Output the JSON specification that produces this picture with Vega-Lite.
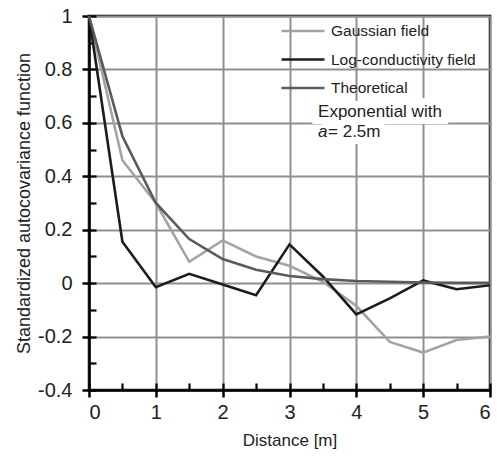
{
  "$schema": "https://vega.github.io/schema/vega-lite/v6.json",
  "width": 401,
  "height": 374,
  "autosize": {"type": "none"},
  "padding": {"left": 89, "top": 16, "right": 7, "bottom": 67},
  "background": "white",
  "config": {
    "font": "Liberation Sans",
    "view": {"stroke": "black", "strokeWidth": 2.5},
    "axis": {"labelFont": "Liberation Sans", "titleFont": "Liberation Sans", "titleFontWeight": "normal", "labelColor": "#222", "titleColor": "#222"}
  },
  "datasets": {
    "acf": [
      {"series": "Gaussian field", "d": 0, "r": 1},
      {"series": "Gaussian field", "d": 0.5, "r": 0.46},
      {"series": "Gaussian field", "d": 1, "r": 0.3},
      {"series": "Gaussian field", "d": 1.5, "r": 0.08},
      {"series": "Gaussian field", "d": 2, "r": 0.16},
      {"series": "Gaussian field", "d": 2.5, "r": 0.1},
      {"series": "Gaussian field", "d": 3, "r": 0.065},
      {"series": "Gaussian field", "d": 3.5, "r": 0.005},
      {"series": "Gaussian field", "d": 4, "r": -0.085},
      {"series": "Gaussian field", "d": 4.5, "r": -0.22},
      {"series": "Gaussian field", "d": 5, "r": -0.26},
      {"series": "Gaussian field", "d": 5.5, "r": -0.213},
      {"series": "Gaussian field", "d": 6, "r": -0.2},
      {"series": "Log-conductivity field", "d": 0, "r": 1},
      {"series": "Log-conductivity field", "d": 0.5, "r": 0.155},
      {"series": "Log-conductivity field", "d": 1, "r": -0.015},
      {"series": "Log-conductivity field", "d": 1.5, "r": 0.035},
      {"series": "Log-conductivity field", "d": 2, "r": -0.005},
      {"series": "Log-conductivity field", "d": 2.5, "r": -0.045},
      {"series": "Log-conductivity field", "d": 3, "r": 0.145},
      {"series": "Log-conductivity field", "d": 3.5, "r": 0.025},
      {"series": "Log-conductivity field", "d": 4, "r": -0.117},
      {"series": "Log-conductivity field", "d": 4.5, "r": -0.057},
      {"series": "Log-conductivity field", "d": 5, "r": 0.01},
      {"series": "Log-conductivity field", "d": 5.5, "r": -0.023},
      {"series": "Log-conductivity field", "d": 6, "r": -0.008},
      {"series": "Theoretical", "d": 0, "r": 1},
      {"series": "Theoretical", "d": 0.5, "r": 0.55},
      {"series": "Theoretical", "d": 1, "r": 0.3},
      {"series": "Theoretical", "d": 1.5, "r": 0.165},
      {"series": "Theoretical", "d": 2, "r": 0.09},
      {"series": "Theoretical", "d": 2.5, "r": 0.05},
      {"series": "Theoretical", "d": 3, "r": 0.027},
      {"series": "Theoretical", "d": 3.5, "r": 0.015},
      {"series": "Theoretical", "d": 4, "r": 0.008},
      {"series": "Theoretical", "d": 4.5, "r": 0.005},
      {"series": "Theoretical", "d": 5, "r": 0.0025},
      {"series": "Theoretical", "d": 5.5, "r": 0.001},
      {"series": "Theoretical", "d": 6, "r": 0.001}
    ],
    "note1": [{"d": 3.427, "r": 0.622, "label": "Exponential with"}],
    "note2": [{"d": 3.427, "r": 0.548, "label": "a", "rest": "= 2.5m"}]
  },
  "layer": [
    {
      "data": {"name": "acf"},
      "mark": {"type": "line", "strokeWidth": 2.6},
      "encoding": {
        "x": {
          "field": "d", "type": "quantitative",
          "scale": {"domain": [0, 6], "nice": false, "zero": false},
          "axis": {
            "title": "Distance [m]", "titleFontSize": 17, "titlePadding": 10,
            "values": [0, 1, 2, 3, 4, 5, 6],
            "labelExpr": "'' + round(datum.value)",
            "labelFontSize": 20, "labelPadding": 5,
            "tickSize": 7, "tickWidth": 2.5, "tickColor": "black",
            "domainColor": "black", "domainWidth": 2.5,
            "grid": true, "gridColor": "#8f8f8f", "gridWidth": 2
          }
        },
        "y": {
          "field": "r", "type": "quantitative",
          "scale": {"domain": [-0.4, 1], "nice": false, "zero": false},
          "axis": {
            "title": "Standardized autocovariance function", "titleFontSize": 18, "titlePadding": 4,
            "values": [-0.4, -0.2, 0, 0.2, 0.4, 0.6, 0.8, 1],
            "labelExpr": "'' + round(datum.value * 10) / 10",
            "labelFontSize": 20, "labelPadding": 10,
            "tickSize": 7, "tickWidth": 2.5, "tickColor": "black",
            "domainColor": "black", "domainWidth": 2.5,
            "grid": true, "gridColor": "#8f8f8f", "gridWidth": 2
          }
        },
        "color": {
          "field": "series", "type": "nominal",
          "scale": {
            "domain": ["Gaussian field", "Log-conductivity field", "Theoretical"],
            "range": ["#a3a3a3", "#1c1c1c", "#5a5a5a"]
          },
          "legend": {
            "orient": "none", "legendX": 191, "legendY": 7,
            "title": null, "direction": "vertical",
            "symbolType": "stroke", "symbolSize": 1849, "symbolStrokeWidth": 2.5,
            "labelFont": "Liberation Sans", "labelFontSize": 15.5, "labelColor": "#222",
            "labelOffset": 5, "clipHeight": 16, "rowPadding": 11.5, "padding": 0
          }
        }
      }
    },
    {
      "data": {"name": "acf"},
      "mark": {"type": "point", "opacity": 0},
      "encoding": {
        "x": {
          "field": "d", "type": "quantitative",
          "axis": {
            "orient": "top", "offset": -374, "title": null, "labels": false, "domain": false, "grid": false,
            "values": [0, 0.5, 1, 1.5, 2, 2.5, 3, 3.5, 4, 4.5, 5, 5.5, 6],
            "tickSize": 7, "tickWidth": 2.2, "tickColor": "black"
          }
        },
        "y": {
          "field": "r", "type": "quantitative",
          "axis": {
            "orient": "right", "offset": -401, "title": null, "labels": false, "domain": false, "grid": false,
            "values": [-0.4, -0.3, -0.2, -0.1, 0, 0.1, 0.2, 0.3, 0.4, 0.5, 0.6, 0.7, 0.8, 0.9, 1],
            "tickSize": 7, "tickWidth": 2.2, "tickColor": "black"
          }
        }
      }
    },
    {
      "data": {"name": "note1"},
      "mark": {"type": "text", "align": "left", "baseline": "alphabetic", "fontSize": 17, "color": "white", "stroke": "white", "strokeWidth": 14},
      "encoding": {
        "x": {"field": "d", "type": "quantitative", "axis": null},
        "y": {"field": "r", "type": "quantitative", "axis": null},
        "text": {"field": "label"}
      }
    },
    {
      "data": {"name": "note2"},
      "mark": {"type": "text", "align": "left", "baseline": "alphabetic", "fontSize": 17, "color": "white", "stroke": "white", "strokeWidth": 14, "dx": 10},
      "encoding": {
        "x": {"field": "d", "type": "quantitative", "axis": null},
        "y": {"field": "r", "type": "quantitative", "axis": null},
        "text": {"field": "rest"}
      }
    },
    {
      "data": {"name": "note1"},
      "mark": {"type": "text", "align": "left", "baseline": "alphabetic", "fontSize": 17, "color": "#222"},
      "encoding": {
        "x": {"field": "d", "type": "quantitative", "axis": null},
        "y": {"field": "r", "type": "quantitative", "axis": null},
        "text": {"field": "label"}
      }
    },
    {
      "data": {"name": "note2"},
      "mark": {"type": "text", "align": "left", "baseline": "alphabetic", "fontSize": 17, "fontStyle": "italic", "color": "#222"},
      "encoding": {
        "x": {"field": "d", "type": "quantitative", "axis": null},
        "y": {"field": "r", "type": "quantitative", "axis": null},
        "text": {"field": "label"}
      }
    },
    {
      "data": {"name": "note2"},
      "mark": {"type": "text", "align": "left", "baseline": "alphabetic", "fontSize": 17, "color": "#222", "dx": 10},
      "encoding": {
        "x": {"field": "d", "type": "quantitative", "axis": null},
        "y": {"field": "r", "type": "quantitative", "axis": null},
        "text": {"field": "rest"}
      }
    }
  ],
  "resolve": {"axis": {"x": "independent", "y": "independent"}}
}
